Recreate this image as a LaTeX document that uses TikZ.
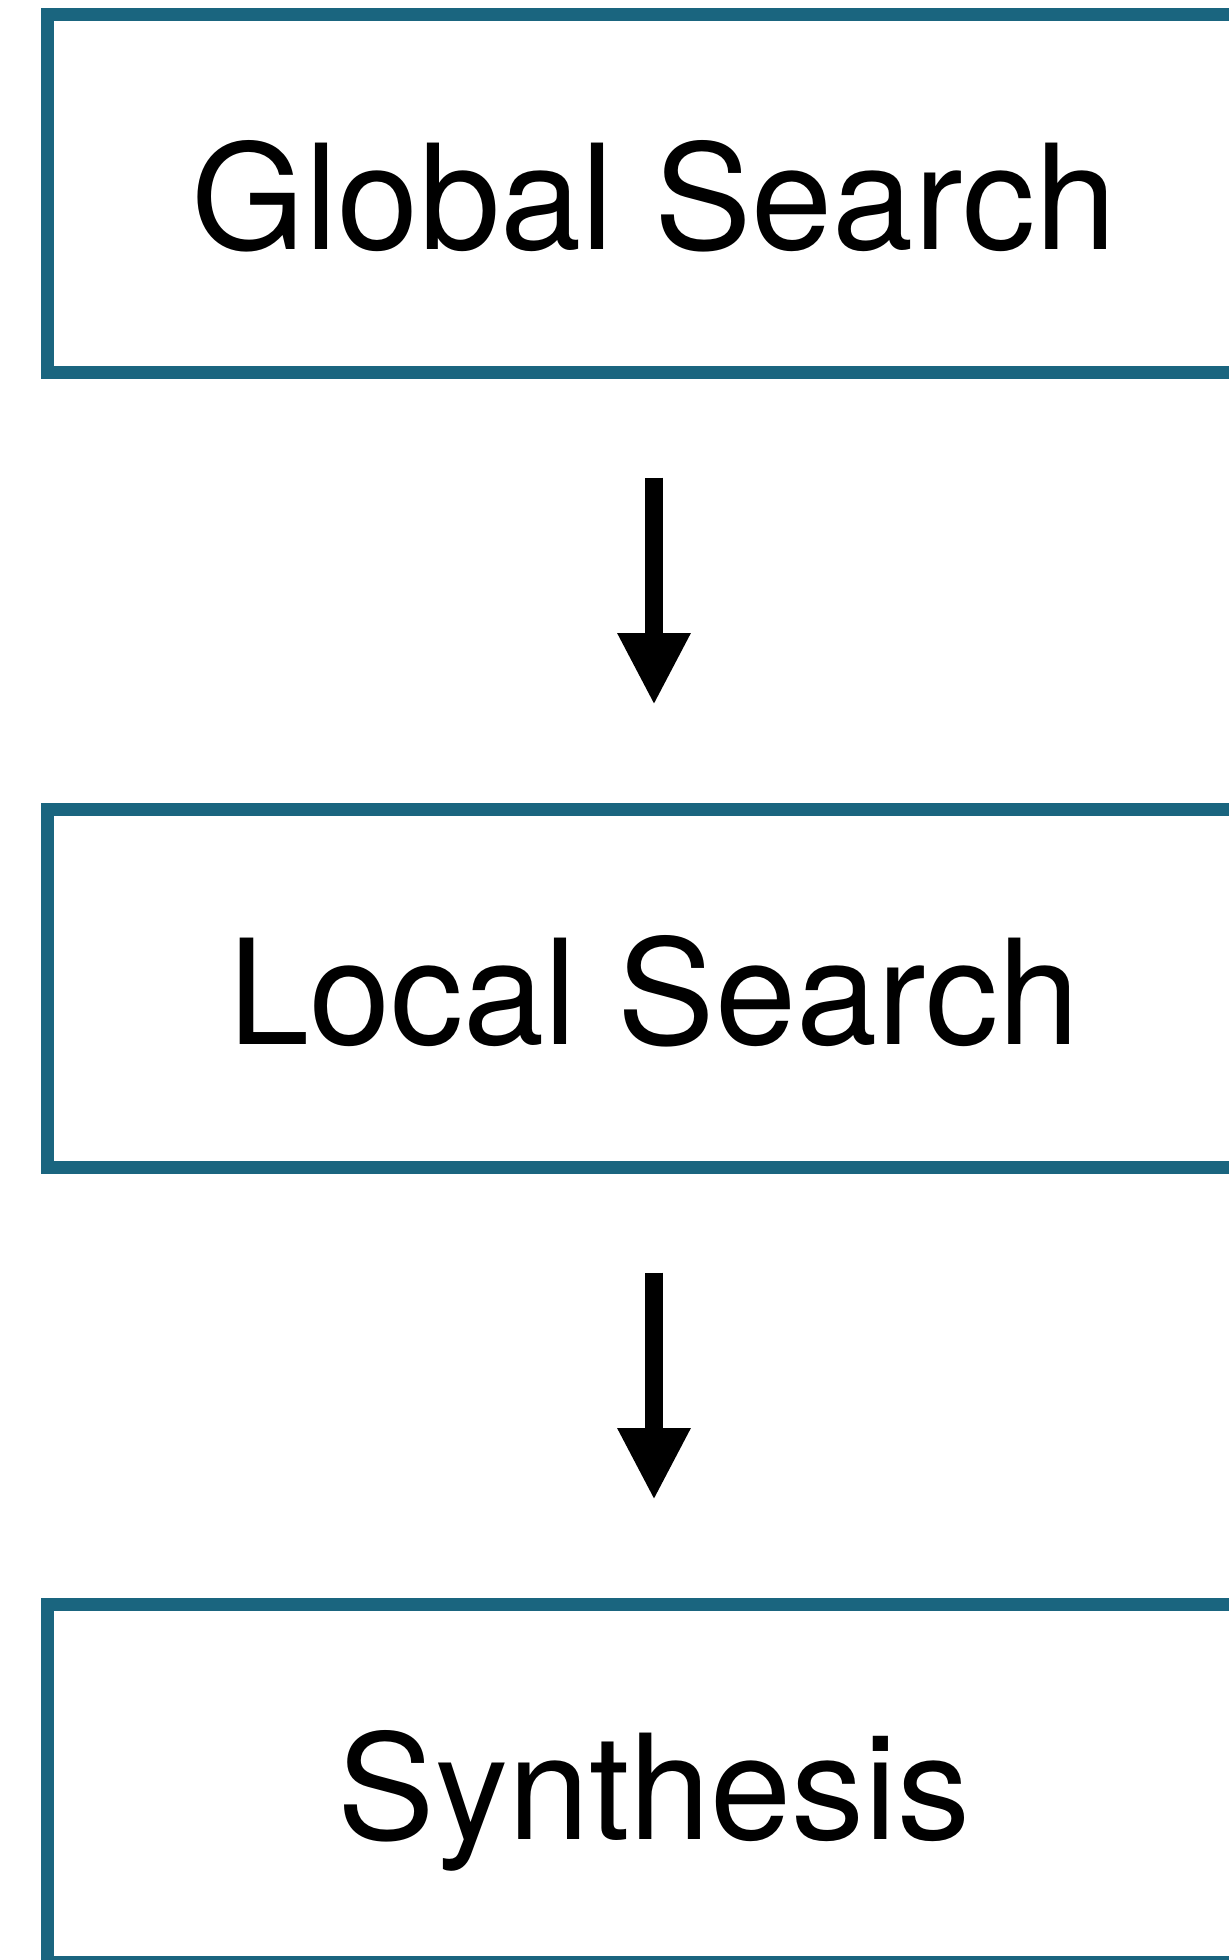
\documentclass[tikz,border=0pt]{standalone}
\usepackage{fontspec}
\setmainfont{TeX Gyre Heros}
\usetikzlibrary{positioning, arrows.meta}

\definecolor{stageblue}{RGB}{26,101,127}

\begin{document}
\begin{tikzpicture}[x=0.5pt, y=-0.5pt, node distance=218.5pt,
        stage/.style={draw=stageblue, line width=6.75pt, rectangle, outer sep=0pt,
            minimum width=606.5pt, minimum height=179pt,
            font=\fontsize{73}{80}\selectfont, text height=55.5pt, text depth=0pt},
        flow/.style={line width=9pt, -{Triangle[width=34pt, length=36pt]},
            shorten <=52.6pt, shorten >=52.2pt}]
        % Fix the page size
        \useasboundingbox (0, 0) rectangle (1229, 1960);

        % Draw the three stages
        \node[stage] (global) at (654, 193.5) {Global Search};
        \node[stage, below=of global] (local) {Local Search};
        \node[stage, below=of local] (synth) {Synthesis};

        % Draw the arrows between the stages
        \draw[flow] (global) -- (local);
        \draw[flow] (local) -- (synth);

    \end{tikzpicture}
\end{document}
